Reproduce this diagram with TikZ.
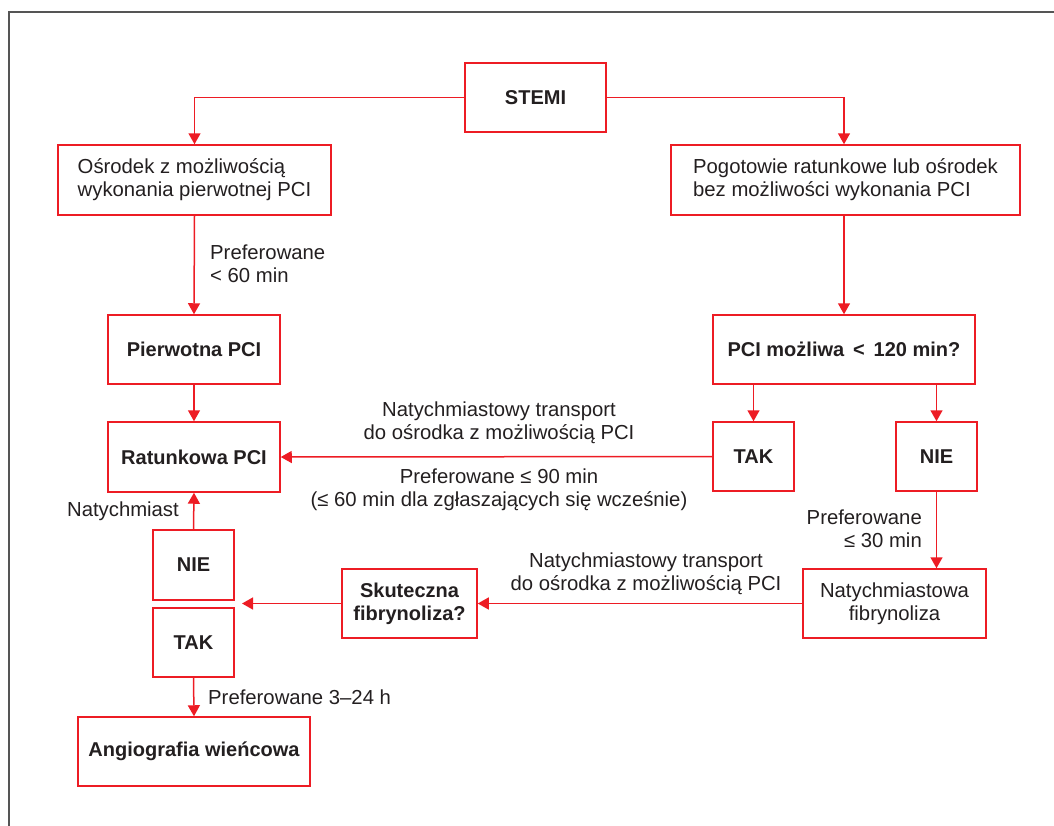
\documentclass[tikz,border=0pt]{standalone}
\usepackage{fontspec}
\setmainfont{Liberation Sans}
\usetikzlibrary{arrows.meta}
\definecolor{lred}{HTML}{ED1C24}
\definecolor{txt}{HTML}{231F20}
\definecolor{frame}{HTML}{555555}
\begin{document}
\begin{tikzpicture}[x=1pt,y=-1pt,
  every node/.style={text=txt, font=\fontsize{20.3}{23}\selectfont},
  box/.style={draw=lred, line width=1.5pt, rectangle, inner sep=0pt, fill=white},
  bbox/.style={box, font=\fontsize{20}{23}\selectfont\bfseries},
  lbl/.style={inner sep=0pt},
  conn/.style={draw=lred, line width=1.5pt},
  arr/.style={conn, -{Triangle[width=12pt,length=11pt]}}]
\useasboundingbox (0,0) rectangle (1054,825);
% frame
\draw[frame, line width=1.6pt] (9,830) -- (9,12) -- (1060,12);
% boxes
\node[bbox, minimum width=141, minimum height=69] (stemi) at (535.5,97.5) {STEMI};
\node[box, minimum width=273, minimum height=70, align=left] (osr) at (194.5,180) {Ośrodek z możliwością\\wykonania pierwotnej PCI};
\node[box, minimum width=349, minimum height=70, align=left] (pog) at (845.5,180) {Pogotowie ratunkowe lub ośrodek\\bez możliwości wykonania PCI};
\node[bbox, minimum width=172, minimum height=69] (pierw) at (194,349.5) {Pierwotna PCI};
\node[bbox, minimum width=262, minimum height=69] (pcim) at (844,349.5) {PCI możliwa \,<\, 120 min?};
\node[bbox, minimum width=172, minimum height=70] (rat) at (194,457) {Ratunkowa PCI};
\node[bbox, minimum width=81, minimum height=69] (tak2) at (753.5,456.5) {TAK};
\node[bbox, minimum width=81, minimum height=69] (nie2) at (936.5,456.5) {NIE};
\node[bbox, minimum width=81, minimum height=70] (nie1) at (193.5,565) {NIE};
\node[bbox, minimum width=81, minimum height=69] (tak1) at (193.5,642.5) {TAK};
\node[bbox, minimum width=135, minimum height=69, align=center] (skut) at (409.5,603.5) {Skuteczna\\fibrynoliza?};
\node[box, minimum width=183, minimum height=69, align=center] (natfib) at (894.5,603.5) {Natychmiastowa\\fibrynoliza};
\node[bbox, minimum width=232, minimum height=69] (angio) at (194,751.5) {Angiografia wieńcowa};
\coordinate (skutend) at (242,603.5);
% connectors
\draw[arr] (stemi.west) -| (osr.north);
\draw[arr] (stemi.east) -| (pcim.north |- pog.north);
\draw[arr] (osr.south) -- (pierw.north);
\draw[arr] (pcim.north |- pog.south) -- (pcim.north);
\draw[arr] (pierw.south) -- (rat.north);
\draw[arr] (tak2.north |- pcim.south) -- (tak2.north);
\draw[arr] (nie2.north |- pcim.south) -- (nie2.north);
\draw[arr] (tak2.west) -- (rat.east);
\draw[arr] (nie2.south) -- (nie2.south |- natfib.north);
\draw[arr] (natfib.west) -- (skut.east);
\draw[arr] (skut.west) -- (skutend);
\draw[arr] (nie1.north) -- (rat.south);
\draw[arr] (tak1.south) -- (angio.north);
% labels
\node[lbl, anchor=west, align=left] (l60) at (210,263.5) {Preferowane\\< 60 min};
\node[lbl, align=center] (ltr1) at (499,423) {Natychmiastowy transport\\do ośrodka z możliwością PCI};
\node[lbl, align=center] (l90) at (499,489.5) {Preferowane ≤ 90 min\\(≤ 60 min dla zgłaszających się wcześnie)};
\node[lbl, anchor=east] (lnat) at (179,511) {Natychmiast};
\node[lbl, align=center] (ltr2) at (646,574) {Natychmiastowy transport\\do ośrodka z możliwością PCI};
\node[lbl, anchor=east, align=right] (l30) at (922,529) {Preferowane\\≤ 30 min};
\node[lbl, anchor=west] (l324) at (208,697) {Preferowane 3–24 h};
\end{tikzpicture}
\end{document}
